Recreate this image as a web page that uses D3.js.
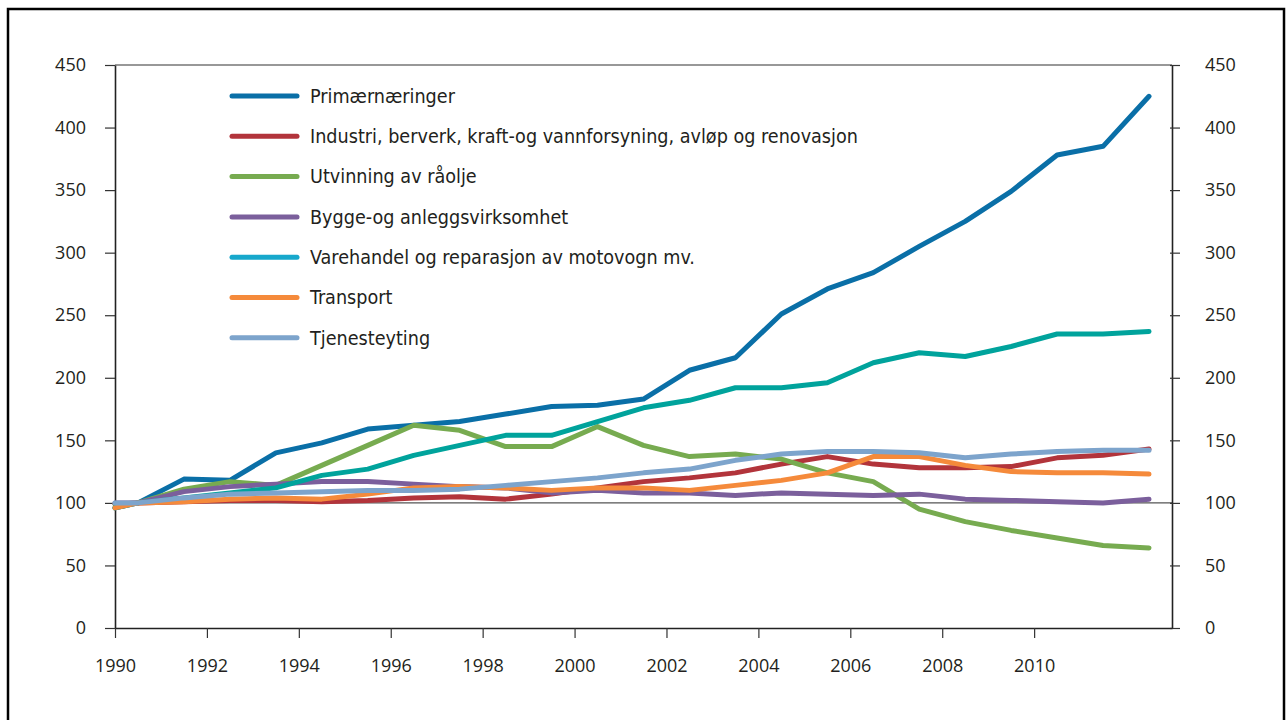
<!DOCTYPE html>
<html>
<head>
<meta charset="utf-8">
<script src="https://cdn.jsdelivr.net/npm/d3@7"></script>
<style>
  body { margin: 0; background: #fff; }
  svg { display: block; }
  .tick text { font-family: "Open Sans", "Noto Sans", sans-serif; font-size: 18px; fill: #231f20; }
  .legend text { font-family: "Liberation Sans Narrow", "DejaVu Sans Condensed", sans-serif; font-size: 19.6px; fill: #231f20; }
</style>
</head>
<body>
<div id="chart"></div>
<script>
// year positions of the points (first one at the axis start, the rest mid-year)
var years = [1990, 1990.5, 1991.5, 1992.5, 1993.5, 1994.5, 1995.5, 1996.5, 1997.5, 1998.5, 1999.5,
             2000.5, 2001.5, 2002.5, 2003.5, 2004.5, 2005.5, 2006.5, 2007.5, 2008.5, 2009.5,
             2010.5, 2011.5, 2012.5];

var names = ["Primærnæringer",
             "Industri, berverk, kraft-og vannforsyning, avløp og renovasjon",
             "Utvinning av råolje",
             "Bygge-og anleggsvirksomhet",
             "Varehandel og reparasjon av motovogn mv.",
             "Transport",
             "Tjenesteyting"];

var colors = ["#0a6fa7", "#b2343b", "#77ab50", "#7b5f9c", "#00a39c", "#f58a3b", "#7da4cc"];
var legendColors = ["#0a6fa7", "#b2343b", "#77ab50", "#7b5f9c", "#17a8cc", "#f58a3b", "#7da4cc"];

var primaer   = [96, 100, 119, 118, 140, 148, 159, 162, 165, 171, 177, 178, 183, 206, 216, 251, 271, 284, 305, 325, 349, 378, 385, 425];
var industri  = [99, 100, 101, 102, 102, 101, 102, 104, 105, 103, 107, 112, 117, 120, 124, 131, 137, 131, 128, 128, 129, 136, 138, 143];
var utvinning = [99, 100, 111, 117, 114, 130, 146, 162, 158, 145, 145, 161, 146, 137, 139, 135, 124, 117, 95, 85, 78, 72, 66, 64];
var bygge     = [100, 100, 109, 113, 115, 117, 117, 115, 113, 112, 108, 110, 108, 108, 106, 108, 107, 106, 107, 103, 102, 101, 100, 103];
var varehandel= [96, 100, 104, 108, 112, 122, 127, 138, 146, 154, 154, 165, 176, 182, 192, 192, 196, 212, 220, 217, 225, 235, 235, 237];
var transport = [96, 100, 101, 103, 104, 103, 107, 112, 113, 112, 110, 112, 112, 110, 114, 118, 124, 137, 137, 130, 125, 124, 124, 123];
var tjeneste  = [100, 100, 104, 107, 108, 109, 110, 110, 111, 114, 117, 120, 124, 127, 134, 139, 141, 141, 140, 136, 139, 141, 142, 142];

var series = [primaer, industri, utvinning, bygge, varehandel, transport, tjeneste];

var yTicks = [0, 50, 100, 150, 200, 250, 300, 350, 400, 450];
var xTicks = [1990, 1992, 1994, 1996, 1998, 2000, 2002, 2004, 2006, 2008, 2010];

var W = 1286, H = 720;
var pLeft = 115, pRight = 1172, pTop = 65, pBottom = 628;

var svg = d3.select("#chart").append("svg")
    .attr("width", W)
    .attr("height", H);

// outer frame
svg.append("rect")
    .attr("x", 8).attr("y", 9)
    .attr("width", 1276).attr("height", 730)
    .attr("fill", "none")
    .attr("stroke", "#000")
    .attr("stroke-width", 2.5);

var x = d3.scaleLinear().domain([1990, 2013]).range([pLeft, pRight]);
var y = d3.scaleLinear().domain([0, 450]).range([pBottom, pTop]);

// top border of plot
svg.append("line")
    .attr("x1", pLeft).attr("x2", pRight)
    .attr("y1", pTop).attr("y2", pTop)
    .attr("stroke", "#333").attr("stroke-width", 1.2);

// reference line at 100
svg.append("line")
    .attr("x1", pLeft).attr("x2", pRight)
    .attr("y1", y(100)).attr("y2", y(100))
    .attr("stroke", "#555").attr("stroke-width", 1.2);

var yl = svg.append("g")
    .attr("transform", "translate(" + pLeft + ",0)")
    .call(d3.axisLeft(y).tickValues(yTicks).tickSize(10).tickPadding(19).tickSizeOuter(0));
var yr = svg.append("g")
    .attr("transform", "translate(" + pRight + ",0)")
    .call(d3.axisRight(y).tickValues(yTicks).tickSize(8).tickPadding(25).tickSizeOuter(0));
var xa = svg.append("g")
    .attr("transform", "translate(0," + pBottom + ")")
    .call(d3.axisBottom(x).tickValues(xTicks).tickFormat(d3.format("d")).tickSize(10).tickPadding(21).tickSizeOuter(0));

[yl, yr, xa].forEach(function (g) {
    g.select(".domain").attr("stroke", "#222").attr("stroke-width", 1.6);
    g.selectAll(".tick line").attr("stroke", "#333").attr("stroke-width", 1.2);
});
yr.selectAll(".tick line").attr("x1", -2);

var line = d3.line()
    .x(function (d, i) { return x(years[i]); })
    .y(function (d) { return y(d); });

series.forEach(function (s, k) {
    svg.append("path")
        .datum(s)
        .attr("d", line)
        .attr("fill", "none")
        .attr("stroke", colors[k])
        .attr("stroke-width", 5)
        .attr("stroke-linecap", "round")
        .attr("stroke-linejoin", "round");
});

// legend
var legend = svg.append("g").attr("class", "legend");
names.forEach(function (n, k) {
    var ly = 96 + k * 40.3;
    legend.append("line")
        .attr("x1", 232).attr("x2", 297)
        .attr("y1", ly).attr("y2", ly)
        .attr("stroke", legendColors[k])
        .attr("stroke-width", 5)
        .attr("stroke-linecap", "round");
    legend.append("text")
        .attr("x", 310).attr("y", ly)
        .attr("dy", "0.35em")
        .text(n);
});
</script>
</body>
</html>
